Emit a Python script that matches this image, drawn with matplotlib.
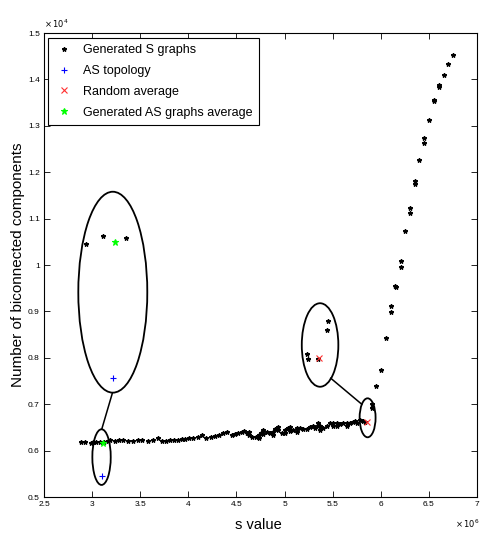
import matplotlib
matplotlib.use("Agg")
import matplotlib.pyplot as plt
from matplotlib.patches import Ellipse
from matplotlib.ticker import FixedLocator, FuncFormatter

plt.rcParams['font.family'] = ['Liberation Sans', 'DejaVu Sans']

# ---- data (x in units of 1e6, y in units of 1e4) ----
s_graphs_x = [2.881, 2.926, 2.985, 3.013, 3.037, 3.082, 3.127, 3.162, 3.186, 3.238,
              3.283, 3.324, 3.370, 3.422, 3.474, 3.516, 3.584, 3.630, 3.682, 3.730,
              3.768, 3.810, 3.854, 3.896, 3.931, 3.966, 4.010, 4.052, 4.098, 4.139,
              4.184, 4.236, 4.278, 4.322, 4.364, 4.405, 4.451, 4.485, 4.520, 4.555,
              4.579, 4.607, 4.634, 4.659, 4.704, 4.738, 4.756, 4.780, 4.815, 4.849,
              4.884, 4.901, 4.936, 4.971, 5.005, 5.040, 5.057, 5.092, 5.127, 5.161,
              5.195, 5.231, 5.265, 5.299, 5.317, 5.351, 5.369, 5.403, 5.439, 5.473,
              5.507, 5.543, 5.577, 5.611, 5.647, 5.681, 5.709, 5.733, 5.757, 5.785,
              5.819, 5.837,
              4.634, 4.738, 4.780, 4.884, 4.936, 5.005, 5.057, 5.127, 5.351, 5.369,
              5.507, 5.543, 5.647,
              5.910, 5.910, 5.954, 6.003, 6.055, 6.104, 6.110, 6.152, 6.159, 6.208,
              6.208, 6.256, 6.308, 6.308, 6.357, 6.357, 6.401, 6.453, 6.453, 6.502,
              6.554, 6.554, 6.603, 6.609, 6.655, 6.703, 6.748]
s_graphs_y = [0.618, 0.618, 0.616, 0.618, 0.618, 0.619, 0.618, 0.621, 0.623, 0.621,
              0.623, 0.623, 0.621, 0.621, 0.623, 0.623, 0.621, 0.623, 0.627, 0.621,
              0.621, 0.623, 0.623, 0.623, 0.624, 0.625, 0.627, 0.628, 0.629, 0.634,
              0.627, 0.629, 0.631, 0.634, 0.637, 0.641, 0.634, 0.636, 0.639, 0.641,
              0.643, 0.637, 0.634, 0.630, 0.629, 0.627, 0.637, 0.644, 0.641, 0.637,
              0.641, 0.646, 0.644, 0.639, 0.644, 0.648, 0.643, 0.644, 0.649, 0.648,
              0.646, 0.646, 0.650, 0.652, 0.648, 0.659, 0.652, 0.648, 0.652, 0.659,
              0.659, 0.659, 0.657, 0.659, 0.660, 0.659, 0.662, 0.664, 0.660, 0.666,
              0.664, 0.661,
              0.641, 0.633, 0.636, 0.634, 0.650, 0.637, 0.650, 0.641, 0.652, 0.645,
              0.653, 0.652, 0.654,
              0.700, 0.691, 0.739, 0.774, 0.843, 0.899, 0.911, 0.955, 0.952, 1.009,
              0.996, 1.073, 1.122, 1.111, 1.181, 1.174, 1.227, 1.273, 1.264, 1.312,
              1.355, 1.353, 1.383, 1.388, 1.4095, 1.434, 1.4526]

# zoomed (magnified) views drawn inside the large ellipses
zoom_s_x = [2.937, 3.113, 3.352, 5.449, 5.439, 5.231, 5.241, 5.348]
zoom_s_y = [1.045, 1.0625, 1.058, 0.8787, 0.859, 0.8075, 0.797, 0.797]

as_topology_x = [3.103, 3.217]
as_topology_y = [0.545, 0.7565]
random_avg_x = [5.854, 5.359]
random_avg_y = [0.662, 0.800]
gen_as_avg_x = [3.110, 3.238]
gen_as_avg_y = [0.617, 1.0496]

x_ticks = [2.5, 3, 3.5, 4, 4.5, 5, 5.5, 6, 6.5, 7]
y_ticks = [0.5, 0.6, 0.7, 0.8, 0.9, 1.0, 1.1, 1.2, 1.3, 1.4, 1.5]

# ellipses: (center x, center y, width, height)
ellipses = [(3.215, 0.9414, 0.717, 0.433),
            (3.098, 0.586, 0.191, 0.120),
            (5.369, 0.8276, 0.380, 0.180),
            (5.863, 0.6707, 0.166, 0.084)]
connectors = [((3.100, 3.210), (0.646, 0.7235)),
              ((5.480, 5.802), (0.756, 0.700))]

# ---- figure ----
fig = plt.figure(figsize=(4.81, 5.34), dpi=100)
ax = fig.add_axes([44/481, 37/534, 433/481, 464/534])

ax.plot(s_graphs_x, s_graphs_y, linestyle='none', marker='*', color='black',
        markersize=3.3, markeredgewidth=0.9, label='Generated S graphs')
ax.plot(zoom_s_x, zoom_s_y, linestyle='none', marker='*', color='black',
        markersize=3.3, markeredgewidth=0.9)
ax.plot(as_topology_x, as_topology_y, linestyle='none', marker='+', color='blue',
        markersize=5, markeredgewidth=0.8, label='AS topology')
ax.plot(random_avg_x, random_avg_y, linestyle='none', marker='x', color='#ff3030',
        markersize=4, markeredgewidth=0.8, label='Random average')
ax.plot(gen_as_avg_x, gen_as_avg_y, linestyle='none', marker='*', color='#00ff00',
        markersize=4.5, markeredgewidth=0.8, label='Generated AS graphs average')

for cx, cy, w, h in ellipses:
    ax.add_patch(Ellipse((cx, cy), w, h, fill=False, edgecolor='black', linewidth=1.3))
for xs, ys in connectors:
    ax.plot(xs, ys, color='black', linewidth=1.1)

ax.set_xlim(2.5, 7)
ax.set_ylim(0.5, 1.5)
ax.xaxis.set_major_locator(FixedLocator(x_ticks))
ax.yaxis.set_major_locator(FixedLocator(y_ticks))
fmt = FuncFormatter(lambda v, p: '%g' % round(v, 2))
ax.xaxis.set_major_formatter(fmt)
ax.yaxis.set_major_formatter(fmt)
ax.tick_params(direction='in', length=4, width=0.6, labelsize=6,
               top=True, right=True, pad=3)
for sp in ax.spines.values():
    sp.set_linewidth(0.8)

ax.set_xlabel('s value', fontsize=10.5)
ax.xaxis.set_label_coords(0.495, -0.045)
ax.set_ylabel('Number of biconnected components', fontsize=11)
ax.yaxis.set_label_coords(-0.045, 0.5)

fig.text(44/481, 1 - 28/534, r'$\times\,10^{4}$', fontsize=6, ha='left', va='baseline')
fig.text(455/481, 1 - 528/534, r'$\times\,10^{6}$', fontsize=6, ha='left', va='baseline')

leg = ax.legend(loc='upper left', bbox_to_anchor=(0.009, 0.989), fontsize=9,
                frameon=True, fancybox=False, edgecolor='black', framealpha=1,
                labelspacing=0.7, handlelength=1.5, borderpad=0.5,
                handletextpad=0.8, borderaxespad=0)
leg.get_frame().set_linewidth(0.8)

fig.savefig('out.png', dpi=100)
